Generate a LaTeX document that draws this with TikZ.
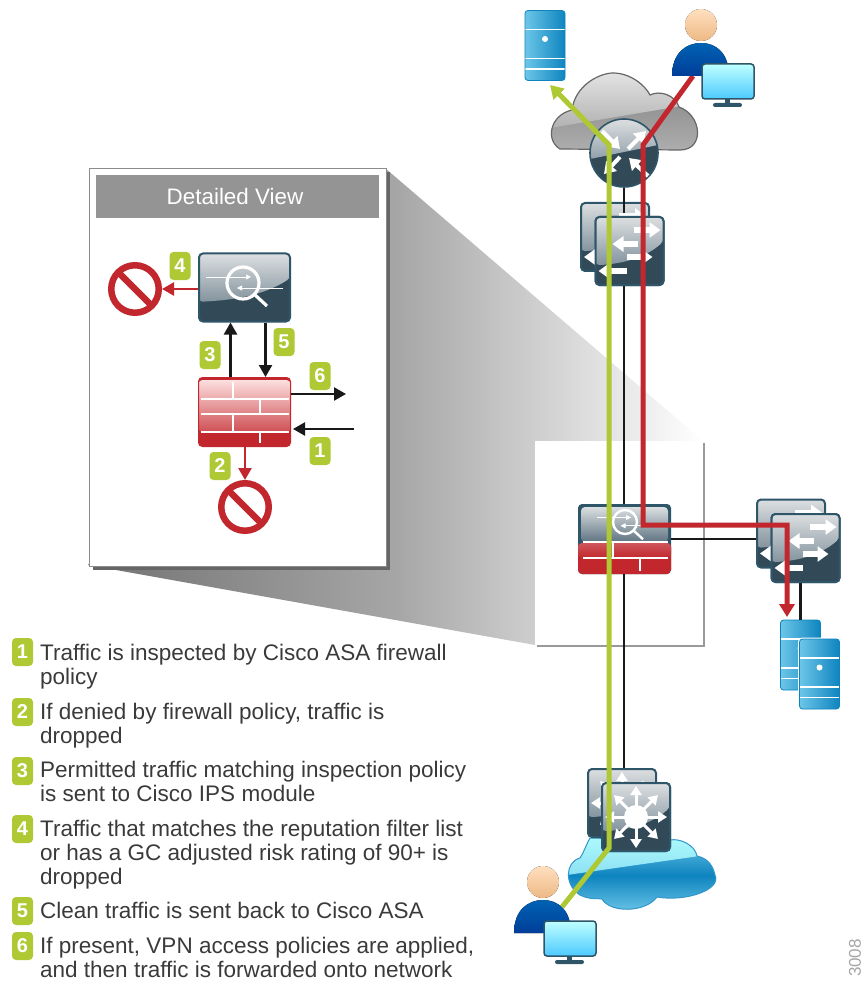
\documentclass[tikz,border=0pt]{standalone}
\usepackage{fontspec}
\setmainfont{Liberation Sans}
\usetikzlibrary{arrows.meta,shadows}

\definecolor{devline}{HTML}{2F5569}
\definecolor{devdark}{HTML}{324A58}
\definecolor{devtop}{HTML}{DCDFE1}
\definecolor{devmid}{HTML}{5F7482}
\definecolor{flowred}{HTML}{C1272D}
\definecolor{flowgreen}{HTML}{AEC934}
\definecolor{srvlight}{HTML}{6CC6E8}
\definecolor{srvdark}{HTML}{0E84BF}
\definecolor{legendgray}{HTML}{3A3A3A}

\newcommand{\ppb}{path picture bounding box}
\newcommand{\devgloss}[2]{\shade[top color=devtop,bottom color=devmid]
  ([shift={(-#1,-#2)}]\ppb.center) -- ([shift={(#1,-#2)}]\ppb.center) -- ([shift={(#1,-.28*#2)}]\ppb.center)
  .. controls ([shift={(.4*#1,.25*#2)}]\ppb.center) and ([shift={(-.3*#1,.38*#2)}]\ppb.center) .. ([shift={(-#1,.42*#2)}]\ppb.center) -- cycle;}
\newcommand{\swarrows}[1]{\foreach \ax/\bx/\ay in {4/31/-21,8/-17/-7,-3/23/6,-3/-31/20}
  \draw[wharrow] ([shift={(\ax,\ay)}]#1.center) -- ([shift={(\bx,\ay)}]#1.center);}
\newcommand{\starrows}[1]{\foreach \a in {0,45,...,315}
  \draw[wharrow thin] (#1.center) -- ([shift={(\a:31)}]#1.center);
  \fill[white] (#1.center) circle (12);}
\newcommand{\lensicon}[3]{\begin{scope}[shift={(#1)},scale=#2]
    \draw[white,line width=.7pt,-{Triangle[width=5pt,length=5pt]}] (-37,-6) -- (8,-6);
    \draw[white,line width=.7pt,-{Triangle[width=5pt,length=5pt]}] (40,5) -- (-6,5);
    \draw[white,line width=#3] (0,0) circle (16);
    \draw[white,line width=#3] (11,11) -- (24,23);
  \end{scope}}
\newcommand{\srvlines}{\foreach \ly in {-16,13,23.5}
    \draw[white,line width=1.6pt] ([shift={(-25,\ly)}]\ppb.center) -- ([shift={(25,\ly)}]\ppb.center);
  \fill[white] ([shift={(0,-6.5)}]\ppb.center) circle (3);}

\tikzset{
  devbox/.style={draw=devline,fill=devdark,line width=2pt,rounded corners=4pt,inner sep=0,
    minimum width=68,minimum height=68,path picture={\devgloss{34}{34}}},
  ipsbox/.style={devbox,minimum width=91,path picture={\devgloss{46}{34}}},
  fwbox/.style={draw=flowred,fill=flowred,line width=1pt,rounded corners=4pt,inner sep=0,
    minimum width=92,minimum height=69,path picture={
      \shade[top color=red!10!white,bottom color=flowred] ([shift={(-46,-32)}]\ppb.center) rectangle ([shift={(46,20)}]\ppb.center);}},
  combobox/.style={fill=devline,rounded corners=4pt,inner sep=0,minimum width=93,minimum height=70,path picture={
      \fill[flowred] ([shift={(0,4)}]\ppb.west) rectangle (\ppb.south east);
      \shade[top color=devtop,bottom color=devmid] ([shift={(3,3)}]\ppb.north west) rectangle ([shift={(-3,3)}]\ppb.east);
      \shade[top color=flowred!78!white,bottom color=flowred] ([shift={(0,4)}]\ppb.west) rectangle ([shift={(0,19)}]\ppb.east);}},
  routerball/.style={circle,draw=devline,fill=devdark,line width=1.6pt,inner sep=0,minimum size=68,path picture={
      \shade[top color=devtop,bottom color=devmid] (\ppb.north west) -- (\ppb.north east) -- ([shift={(0,-8)}]\ppb.east) -- ([shift={(0,6)}]\ppb.west) -- cycle;}},
  serverbox/.style={draw=srvdark,left color=srvlight,right color=srvdark,line width=.8pt,rounded corners=3pt,inner sep=0,
    minimum width=40,minimum height=70,path picture={\srvlines}},
  nosign/.style={circle,draw=flowred,line width=6.5pt,inner sep=0,minimum size=47.5,path picture={
      \draw[flowred,line width=6.5pt] (\ppb.north west) -- (\ppb.south east);}},
  badge/.style={fill=flowgreen,rounded corners=4pt,inner sep=0,minimum width=21,minimum height=28,
    text=white,font=\fontsize{20}{20}\selectfont\bfseries},
  legendtext/.style={anchor=north west,inner sep=0,align=left,text=legendgray,font=\fontsize{22.5}{24}\selectfont},
  wharrow/.style={white,line width=6pt,-{Triangle[width=15pt,length=11pt]}},
  wharrow thin/.style={white,line width=3pt,-{Triangle[width=11pt,length=9pt]}},
  routerarrow/.style={white,line width=4pt,-{Triangle[width=14pt,length=11pt]}},
  brick/.style={white,line width=1.3pt},
  blackline/.style={line width=2.3pt,black!90},
  blackflow/.style={blackline,-{Triangle[width=13pt,length=12pt]}},
  redflow/.style={flowred,line width=2.5pt,-{Triangle[width=13pt,length=12pt]}},
  bigred/.style={flowred,line width=5pt,line join=miter},
  biggreen/.style={flowgreen,line width=5pt,line join=miter},
  personpic/.pic={
    \fill[top color=orange!25!white,bottom color=orange!50!brown!55!white] (0,0) circle (16);
    \fill[top color=blue!45!cyan!70!black,bottom color=blue!60!cyan!60!black] (-29,51) .. controls (-29,28) and (-15,18) .. (0,18)
      .. controls (15,18) and (28,28) .. (28,51) -- cycle;
    \draw[devline,line width=1.5pt,rounded corners=3pt,top color=cyan!25!white,bottom color=cyan!70!blue!70!white] (1,39) rectangle (53,74);
    \fill[devline] (24,74) rectangle (29,79);
    \fill[devline,rounded corners=2pt] (12,78) rectangle (41,82);
  }
}

\newcommand{\graycloud}{(560,149) .. controls (545,140) and (550,115) .. (572,110)
  .. controls (575,85) and (600,73) .. (613,73) .. controls (630,73) and (645,85) .. (650,95)
  .. controls (660,90) and (675,95) .. (679,107) .. controls (702,115) and (705,150) .. (680,150) -- cycle}
\newcommand{\bluecloud}{(580,895) .. controls (590,900) and (597,898) .. (602,899)
  .. controls (610,913) and (645,913) .. (657,897) .. controls (685,902) and (722,890) .. (715,875)
  .. controls (712,862) and (705,858) .. (697,856) .. controls (695,845) and (680,838) .. (670,840)
  -- (590,838) .. controls (586,845) and (584,852) .. (580,858) .. controls (565,862) and (564,885) .. (580,895) -- cycle}

\begin{document}
\begin{tikzpicture}[x=1pt,y=-1pt]
      \useasboundingbox (0,0) rectangle (863,981);

      % funnel from the small box to the detail box
      \shade[left color=black!55,right color=white,middle color=black!35] (88,565) -- (385,168) -- (703,441) -- (535,441) -- (535,645) -- cycle;
      \node[draw=black!45,fill=white,line width=1pt,inner sep=0,minimum width=297,minimum height=397,
        drop shadow={shadow xshift=3.5pt,shadow yshift=-3.5pt,fill=black!60,opacity=1}] (detail) at (237.5,367.5) {};
      \node[fill=white,inner sep=0,minimum width=168,minimum height=204,
        drop shadow={shadow xshift=2pt,shadow yshift=-2pt,fill=black!40,opacity=1}] (zoomarea) at (619,543) {};
      \node[fill=black!42,inner sep=0,minimum width=283,minimum height=43,text=white,font=\fontsize{22.4}{22.4}\selectfont] (title) at (237.5,196.5) {\hspace*{-5pt}Detailed View};

      % inside the detail box
      \node[ipsbox] (ips) at (244.5,287.5) {};
      \lensicon{243,283}{1}{3.2pt}
      \node[fwbox] (fw) at (244.5,412) {};
      \foreach \ly in {-13,2,20}
        \draw[brick] ([shift={(-44,\ly)}]fw.center) -- ([shift={(44,\ly)}]fw.center);
      \foreach \vx/\vy/\vz in {-11.5/-30/-13,15.5/-13/2,-11.5/2/20,15.5/20/31}
        \draw[brick] ([shift={(\vx,\vy)}]fw.center) -- ([shift={(\vx,\vz)}]fw.center);
      \node[nosign] (drop4) at (135,289) {};
      \node[nosign] (drop2) at (245,507) {};
      \coordinate (out6) at (346,394);
      \coordinate (in1) at (354,429);

      \draw[redflow] (ips.west |- drop4) -- (drop4);
      \draw[redflow] (fw.south -| drop2) -- (drop2);
      \draw[blackflow] ([shift={(-14,0)}]fw.north) -- ([shift={(-14,0)}]ips.south);
      \draw[blackflow] ([shift={(21,0)}]ips.south) -- ([shift={(21,0)}]fw.north);
      \draw[blackflow] (fw.east |- out6) -- (out6);
      \draw[blackflow] (in1) -- ([shift={(2,0)}]fw.east |- in1);

      \node[badge] (d4) at (180,266) {4};
      \node[badge] (d3) at (210,355) {3};
      \node[badge] (d5) at (284,342) {5};
      \node[badge] (d6) at (320,376) {6};
      \node[badge] (d1) at (320,451) {1};
      \node[badge] (d2) at (220,466) {2};

      % the network on the right
      \path[draw=black!60,line width=1.2pt,top color=black!50,bottom color=black!32,path picture={
          \shade[top color=black!10,bottom color=black!38] (550,70) -- (705,70) -- (705,102) -- (550,128) -- cycle;}] \graycloud;
      \path[draw=srvdark!85!white,line width=1pt,top color=srvlight,bottom color=srvlight,middle color=srvdark,path picture={
          \shade[top color=cyan!30!white,bottom color=srvlight] (560,830) -- (720,830) -- (720,853) -- (560,876) -- cycle;}] \bluecloud;

      \node[serverbox] (srvtop) at (545,45.5) {};
      \node[routerball] (router) at (624,153) {};
      \node[devbox] (swa) at (615,237) {};
      \node[devbox] (swb) at (629.5,251) {};
      \node[combobox] (asa) at (624.5,539) {};
      \node[devbox] (swc) at (791,533.5) {};
      \node[devbox] (swd) at (805.5,548) {};
      \node[serverbox] (srva) at (800.5,655) {};
      \node[serverbox,preaction={draw=white,line width=3pt}] (srvb) at (819.5,674) {};
      \node[devbox] (core1) at (622,803) {};
      \node[devbox] (core2) at (636,817) {};

      \draw[blackline] (router) -- (swa.south -| router);
      \draw[blackline] (swb.south -| router) -- (asa.north -| router);
      \draw[blackline] (asa.south -| router) -- (core1.north -| router);
      \draw[blackline] (asa.east) -- (swc.west |- asa.east);
      \draw[blackline] (srva.north |- swd.south) -- (srva.north);

      \swarrows{swa}
      \node[devbox] at (swb) (swbtop) {};
      \swarrows{swb}
      \swarrows{swc}
      \node[devbox] at (swd) (swdtop) {};
      \swarrows{swd}
      \starrows{core1}
      \node[devbox] at (core2) (coretop) {};
      \starrows{core2}

      % router arrows
      \draw[routerarrow] ([shift={(-22,-22)}]router.center) -- ([shift={(-4,-4)}]router.center);
      \draw[routerarrow] ([shift={(4,-4)}]router.center) -- ([shift={(22,-22)}]router.center);
      \draw[routerarrow] ([shift={(-4,4)}]router.center) -- ([shift={(-20,21)}]router.center);
      \draw[routerarrow] ([shift={(24,23)}]router.center) -- ([shift={(5,5)}]router.center);

      % firewall with ips module
      \lensicon{625,522}{.75}{2.4pt}
      \draw[brick] ([shift={(-42,3)}]asa.center) -- ([shift={(43,3)}]asa.center);
      \draw[brick] ([shift={(-42,19)}]asa.center) -- ([shift={(43,19)}]asa.center);
      \draw[brick] ([shift={(-11.5,3)}]asa.center) -- ([shift={(-11.5,19)}]asa.center);
      \draw[brick] ([shift={(15.5,19)}]asa.center) -- ([shift={(15.5,32)}]asa.center);

      % traffic
      \coordinate (greenuser) at (562,907);
      \coordinate (greenlow) at (609,848);
      \coordinate (greenhigh) at (609,145);
      \coordinate (greentip) at (550,85);
      \coordinate (reduser) at (693,76);
      \coordinate (redhigh) at (643,145);
      \coordinate (redturn) at (643,525);
      \coordinate (redright) at (787,525);
      \coordinate (redtip) at (787,617);
      \draw[biggreen,-{Triangle[width=15pt,length=13pt]}] (greenuser) -- (greenlow) -- (greenhigh) -- (greentip);
      \draw[bigred,-{Triangle[width=15pt,length=13pt]}] (reduser) -- (redhigh) -- (redturn) -- (redright) -- (redtip);

      \pic (usertop) at (701,25) {personpic};
      \pic (userbottom) at (543,882) {personpic};

      % legend
      \node[badge] (lg1) at (22.5,652) {1};
      \node[badge] (lg2) at (22.5,712) {2};
      \node[badge] (lg3) at (22.5,771) {3};
      \node[badge] (lg4) at (22.5,829) {4};
      \node[badge] (lg5) at (22.5,911) {5};
      \node[badge] (lg6) at (22.5,946) {6};
      \node[legendtext] (txt1) at (40,643) {\strut Traffic is inspected by Cisco ASA firewall\\policy};
      \node[legendtext] (txt2) at (40,702) {\strut If denied by firewall policy, traffic is\\dropped};
      \node[legendtext] (txt3) at (40,760) {\strut Permitted traffic matching inspection policy\\is sent to Cisco IPS module};
      \node[legendtext] (txt4) at (40,819) {\strut Traffic that matches the reputation filter list\\or has a GC adjusted risk rating of 90+ is\\dropped};
      \node[legendtext] (txt5) at (40,901) {\strut Clean traffic is sent back to Cisco ASA};
      \node[legendtext] (txt6) at (40,936) {\strut If present, VPN access policies are applied,\\and then traffic is forwarded onto network};

      \node[rotate=90,text=black!35,font=\fontsize{17}{17}\selectfont] (figno) at (855,958) {3008};
    \end{tikzpicture}
\end{document}
